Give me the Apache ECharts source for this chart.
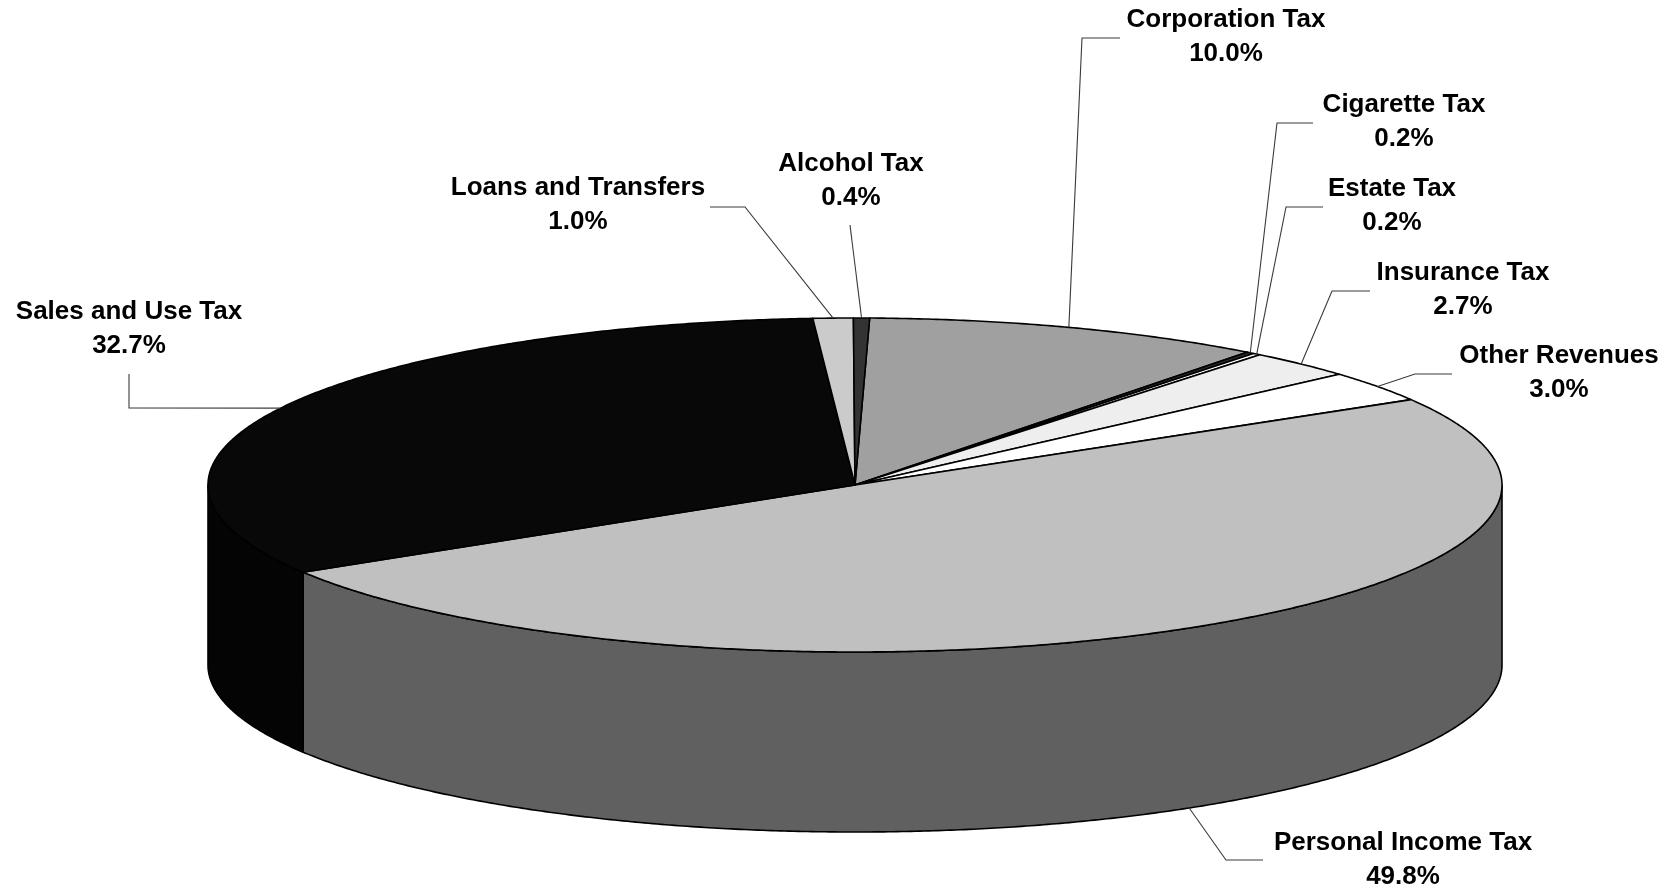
<!DOCTYPE html>
<html>
<head>
<meta charset="utf-8">
<script src="https://cdn.jsdelivr.net/npm/echarts@6/dist/echarts.min.js"></script>
<style>
  html, body { margin: 0; padding: 0; background: #fff; }
  #chart { width: 1673px; height: 891px; }
</style>
</head>
<body>
<div id="chart"></div>
<script>
// Revenue sources, share of total (%), clockwise from 12 o'clock
const categories = [
  'Corporation Tax', 'Cigarette Tax', 'Estate Tax', 'Insurance Tax', 'Other Revenues',
  'Personal Income Tax', 'Sales and Use Tax', 'Loans and Transfers', 'Alcohol Tax'
];
const shares = [10.0, 0.2, 0.2, 2.7, 3.0, 49.8, 32.7, 1.0, 0.4];

// Fill of each slice's top face and of its outer wall
const topColors  = ['#a0a0a0', '#2a2a2a', '#ffffff', '#eeeeee', '#ffffff', '#c0c0c0', '#080808', '#cbcbcb', '#333333'];
const sideColors = ['#707070', '#1a1a1a', '#bbbbbb', '#b0b0b0', '#c8c8c8', '#606060', '#040404', '#909090', '#222222'];

// Label placement: centre of the two-line label, and the leader's elbow / end point
const labelLayout = [
  { text: [1226, 37],  path: [[1082, 38],  [1120, 38]] },
  { text: [1404, 122], path: [[1277, 123], [1313, 123]] },
  { text: [1392, 206], path: [[1286, 207], [1323, 207]] },
  { text: [1463, 290], path: [[1332, 291], [1370, 291]] },
  { text: [1559, 373], path: [[1415, 374], [1452, 374]] },
  { text: [1403, 860], path: [[1226, 860], [1263, 860]] },
  { text: [129, 329],  path: [[129, 408],  [129, 374]] },
  { text: [578, 205],  path: [[745, 207],  [710, 207]] },
  { text: [851, 181],  path: [[850, 225]] }
];

// Tilted pie: ellipse centre, radii, wall height, and rotation of the first slice
const PIE = { cx: 855, cy: 485, rx: 647, ry: 167, depth: 180, startDeg: 1.3 };

const total = shares.reduce((s, v) => s + v, 0);
const starts = [];
shares.reduce((acc, v) => { starts.push(acc); return acc + v; }, 0);

function pt(deg, dy) {
  const r = deg * Math.PI / 180;
  return [PIE.cx + PIE.rx * Math.sin(r), PIE.cy - PIE.ry * Math.cos(r) + (dy || 0)];
}
function arc(a, b, dy) {
  const n = Math.max(2, Math.ceil(Math.abs(b - a) / 0.4));
  const out = [];
  for (let k = 0; k <= n; k++) out.push(pt(a + (b - a) * k / n, dy));
  return out;
}

function renderSlice(params, api) {
  const i = params.dataIndex;
  const value = api.value(0);
  const a = PIE.startDeg + 360 * starts[i] / total;
  const b = a + 360 * value / total;
  const children = [];

  // outer wall, only where the rim faces the viewer (90°..270°)
  const lo = Math.max(a, 90), hi = Math.min(b, 270);
  if (lo < hi) {
    children.push({
      type: 'polygon', z2: 1,
      shape: { points: arc(lo, hi, 0).concat(arc(hi, lo, PIE.depth)) },
      style: { fill: sideColors[i], stroke: '#000', lineWidth: 1.6, lineJoin: 'round' }
    });
  }

  // top face
  children.push({
    type: 'polygon', z2: 2,
    shape: { points: [[PIE.cx, PIE.cy]].concat(arc(a, b, 0)) },
    style: { fill: topColors[i], stroke: '#000', lineWidth: 1.6, lineJoin: 'round' }
  });

  // leader line from the slice's mid-angle on the rim
  const mid = (a + b) / 2;
  const m = ((mid % 360) + 360) % 360;
  const front = m > 90 && m < 270;
  const start = pt(mid, front ? PIE.depth : 0);
  const lay = labelLayout[i];
  children.push({
    type: 'polyline', z2: 3,
    shape: { points: [start].concat(lay.path) },
    style: { fill: null, stroke: '#3a3a3a', lineWidth: 1.1 }
  });

  // two-line label: name and share
  children.push({
    type: 'text', z2: 4,
    x: lay.text[0], y: lay.text[1],
    style: {
      text: categories[i] + '\n' + value.toFixed(1) + '%',
      fill: '#000',
      font: 'bold 26px "Liberation Sans", Arial, sans-serif',
      lineHeight: 34,
      align: 'center', verticalAlign: 'middle',
      textAlign: 'center', textVerticalAlign: 'middle'
    }
  });

  return { type: 'group', children: children };
}

const chart = echarts.init(document.getElementById('chart'), null, { renderer: 'canvas' });
chart.setOption({
  backgroundColor: '#fff',
  animation: false,
  series: [{
    type: 'custom',
    coordinateSystem: 'none',
    silent: true,
    data: shares.map((v, i) => [v, i]),
    renderItem: renderSlice
  }]
});
</script>
</body>
</html>
